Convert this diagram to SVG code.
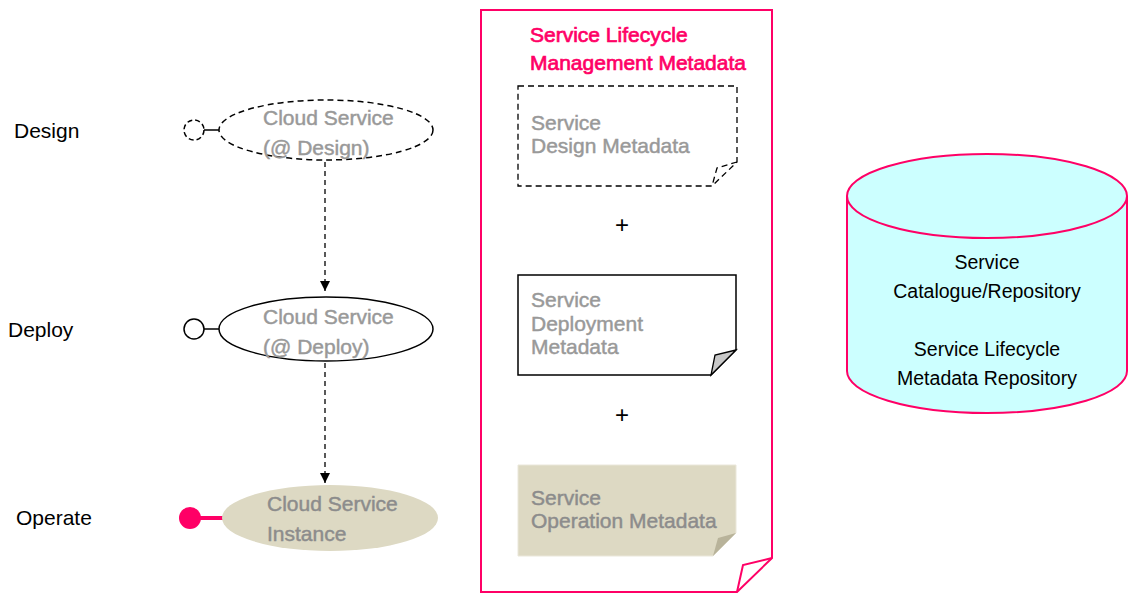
<svg xmlns="http://www.w3.org/2000/svg" width="1129" height="595" viewBox="0 0 1129 595">
  <style>
    .stage { font-family: "Liberation Sans", Arial, sans-serif; font-size: 21px; fill: #000; }
    .node { font-family: "Liberation Sans", Arial, sans-serif; font-size: 21px; fill: #999999; stroke: #999999; stroke-width: 0.45; }
    .dim { fill: #8C8C8C; stroke: #8C8C8C; }
    .title { font-family: "Liberation Sans", Arial, sans-serif; font-size: 21px; fill: #FF0066; stroke: #FF0066; stroke-width: 0.7; }
    .repo { font-family: "Liberation Sans", Arial, sans-serif; font-size: 19.5px; fill: #000; }
    .plus { font-family: "Liberation Sans", Arial, sans-serif; font-size: 24px; fill: #000; }
    .dash { stroke-dasharray: 6 4; }
    .edge { stroke: #000; stroke-width: 1.3; fill: none; stroke-dasharray: 5 4; }
  </style>
  <defs>
    <marker id="arrow" viewBox="0 0 10 10" refX="10" refY="5" markerWidth="10" markerHeight="10" markerUnits="userSpaceOnUse" orient="auto">
      <path d="M0,0 L10,5 L0,10 Z" fill="#000"/>
    </marker>
  </defs>
  <rect width="1129" height="595" fill="#fff"/>

  <!-- stage labels -->
  <g id="labels">
    <text class="stage" x="14" y="138">Design</text>
    <text class="stage" x="8" y="337">Deploy</text>
    <text class="stage" x="16" y="525">Operate</text>
  </g>

  <!-- lifecycle states -->
  <g id="cs-design">
    <circle cx="194" cy="130" r="10" fill="#fff" stroke="#000" stroke-width="1.5" stroke-dasharray="5 3"/>
    <line x1="204" y1="130" x2="219" y2="130" stroke="#000" stroke-width="1.5"/>
    <ellipse cx="326" cy="130" rx="107" ry="30" fill="#fff" stroke="#000" stroke-width="1.5" class="dash"/>
    <text class="node" x="263" y="125">Cloud Service</text>
    <text class="node" x="263" y="155">(@ Design)</text>
  </g>
  <g id="cs-deploy">
    <circle cx="194" cy="329" r="10" fill="#fff" stroke="#000" stroke-width="1.5"/>
    <line x1="204" y1="329" x2="219" y2="329" stroke="#000" stroke-width="1.5"/>
    <ellipse cx="326" cy="329" rx="107" ry="32" fill="#fff" stroke="#000" stroke-width="1.5"/>
    <text class="node" x="263" y="324">Cloud Service</text>
    <text class="node" x="263" y="354">(@ Deploy)</text>
  </g>
  <g id="cs-instance">
    <line x1="190" y1="518" x2="226" y2="518" stroke="#FF0066" stroke-width="4"/>
    <circle cx="190" cy="518" r="11" fill="#FF0066"/>
    <ellipse cx="330" cy="518" rx="108" ry="33" fill="#DDD9C3"/>
    <text class="node dim" x="267" y="511">Cloud Service</text>
    <text class="node dim" x="267" y="541">Instance</text>
  </g>

  <!-- transitions -->
  <g id="connectors">
    <line class="edge" x1="325" y1="162" x2="325" y2="291" marker-end="url(#arrow)"/>
    <line class="edge" x1="325" y1="363" x2="325" y2="483" marker-end="url(#arrow)"/>
  </g>

  <!-- metadata document -->
  <g id="lifecycle-metadata">
    <path d="M481,10 H772 V558 L737,592 H481 Z" fill="#fff" stroke="#FF0066" stroke-width="2"/>
    <path d="M772,558 L743,565 L737,592" fill="none" stroke="#FF0066" stroke-width="2"/>
    <text class="title" x="530" y="42">Service Lifecycle</text>
    <text class="title" x="530" y="70">Management Metadata</text>
  </g>
  <g id="design-metadata">
    <path d="M518,86 H737 V162 L712,186 H518 Z" fill="#fff" stroke="#000" stroke-width="1.3" class="dash"/>
    <path d="M737,162 L717,168 L712,186" fill="none" stroke="#000" stroke-width="1.3" class="dash"/>
    <text class="node" x="531" y="130">Service</text>
    <text class="node" x="531" y="153">Design Metadata</text>
  </g>
  <text class="plus" x="622" y="233" text-anchor="middle">+</text>
  <g id="deployment-metadata">
    <path d="M518,275 H736 V350 L711,375 H518 Z" fill="#fff" stroke="#000" stroke-width="1.5"/>
    <path d="M736,350 L715,355 L711,375 Z" fill="#C8C8C8" stroke="#000" stroke-width="1.3"/>
    <text class="node" x="531" y="307">Service</text>
    <text class="node" x="531" y="331">Deployment</text>
    <text class="node" x="531" y="354">Metadata</text>
  </g>
  <text class="plus" x="622" y="423" text-anchor="middle">+</text>
  <g id="operation-metadata">
    <path d="M518,465 H736 V533 L713,556 H518 Z" fill="#DDD9C3" stroke="#EAE7DA" stroke-width="1"/>
    <path d="M736,533 L718,538 L713,556 Z" fill="#B8B39A"/>
    <text class="node dim" x="531" y="505">Service</text>
    <text class="node dim" x="531" y="528">Operation Metadata</text>
  </g>

  <!-- repository -->
  <g id="repository">
    <path d="M847,196 V371 A140,42 0 0 0 1127,371 V196" fill="#CCFFFF" stroke="#FF0066" stroke-width="2"/>
    <ellipse cx="987" cy="196" rx="140" ry="42" fill="#CCFFFF" stroke="#FF0066" stroke-width="2"/>
    <text class="repo" x="987" y="269" text-anchor="middle">Service</text>
    <text class="repo" x="987" y="298" text-anchor="middle">Catalogue/Repository</text>
    <text class="repo" x="987" y="356" text-anchor="middle">Service Lifecycle</text>
    <text class="repo" x="987" y="385" text-anchor="middle">Metadata Repository</text>
  </g>
</svg>
